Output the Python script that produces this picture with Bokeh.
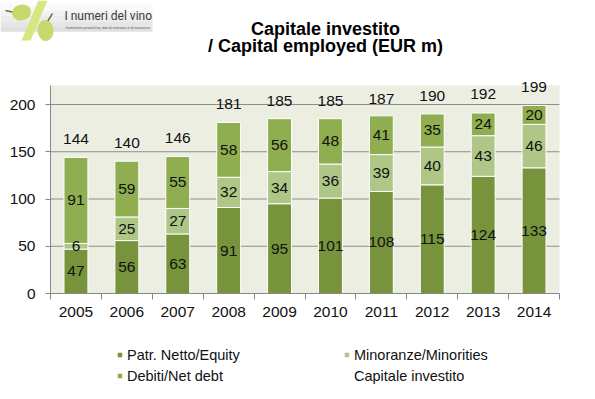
from bokeh.plotting import figure
from bokeh.models import (ColumnDataSource, LabelSet, Label, Legend, LegendItem,
                          FixedTicker, Range1d, BoxAnnotation, LinearAxis)
from bokeh.core.properties import value
from bokeh.embed import file_html
from bokeh.resources import INLINE

# ---------------- data ----------------
years = [2005, 2006, 2007, 2008, 2009, 2010, 2011, 2012, 2013, 2014]
equity = [47, 56, 63, 91, 95, 101, 108, 115, 124, 133]
minorities = [6, 25, 27, 32, 34, 36, 39, 40, 43, 46]
net_debt = [91, 59, 55, 58, 56, 48, 41, 35, 24, 20]
capital_employed = [144, 140, 146, 181, 185, 185, 187, 190, 192, 199]
y_ticks = [0, 50, 100, 150, 200]
y_max = 220

series_names = ["Patr. Netto/Equity", "Minoranze/Minorities", "Debiti/Net debt"]
total_name = "Capitale investito"
title_1 = "Capitale investito"
title_2 = "/ Capital employed (EUR m)"
logo_text = "I numeri del vino"
logo_sub = "Statistiche produttive, dati di mercato e di consumo."

# ---------------- style ----------------
C_EQ = "#77933C"
C_MIN = "#AEC786"
C_DEBT = "#8EAE4F"
C_BG = "#ECEEE1"
C_AX = "#888888"
FONT = "Liberation Sans"
W, H = 595, 399
# plot-area placement in pixels (left, right, bottom of plot area)
PL, PR, PB = 50, 559, 293
X_LO, X_HI = years[0] - 0.5, years[-1] + 0.5
XS = (PR - PL) / (X_HI - X_LO)   # px per year
YS = 0.945                      # px per unit


def dx(px):
    return X_LO + (px - PL) / XS


def dy(py):
    return (PB - py) / YS


src = ColumnDataSource(dict(year=years, eq=equity, mi=minorities, de=net_debt))

p = figure(width=W, height=H, output_backend="svg", toolbar_location=None,
           x_range=Range1d(dx(0), dx(W)), y_range=Range1d(dy(H), dy(0)),
           min_border=0, min_border_left=0, min_border_right=0,
           min_border_top=0, min_border_bottom=0,
           x_axis_type=None, y_axis_type=None)
p.background_fill_color = "white"
p.border_fill_color = "white"
p.outline_line_color = None
p.xgrid.visible = False
p.ygrid.visible = False

# plot area background
p.add_layout(BoxAnnotation(left=X_LO, right=X_HI, bottom=0, top=y_max, fill_color=C_BG,
                           fill_alpha=1, line_color=None, level="underlay"))
# horizontal grid lines
p.segment(x0=[X_LO] * len(y_ticks[1:]), x1=[X_HI] * len(y_ticks[1:]), y0=y_ticks[1:],
          y1=y_ticks[1:], line_color="#8C8C8C", line_width=1)

rs = p.vbar_stack(["eq", "mi", "de"], x="year", width=0.47, source=src,
                  color=[C_EQ, C_MIN, C_DEBT], line_color="white", line_width=1)
inv = p.scatter(x=years, y=capital_employed, alpha=0, size=1)

# segment labels
mids_x, mids_y, mids_t = [], [], []
for y, a, b, c in zip(years, equity, minorities, net_debt):
    base = 0
    for v in (a, b, c):
        mids_x.append(y)
        mids_y.append(base + v / 2)
        mids_t.append(str(v))
        base += v
seg = ColumnDataSource(dict(x=mids_x, y=mids_y, t=mids_t))
p.add_layout(LabelSet(x="x", y="y", text="t", source=seg, text_align="center",
                      text_baseline="middle", text_font=value(FONT), text_font_size="15.5px",
                      text_color="#111111"))
tot = ColumnDataSource(dict(x=years, y=capital_employed, t=[str(v) for v in capital_employed]))
p.add_layout(LabelSet(x="x", y="y", text="t", source=tot, text_align="center",
                      text_baseline="middle", y_offset=18, text_font=value(FONT),
                      text_font_size="15.5px", text_color="#111111"))

# ---------------- axes (fixed at the plot area edges) ----------------
xa = LinearAxis(fixed_location=0, bounds=(X_LO, X_HI),
                ticker=FixedTicker(ticks=years,
                                   minor_ticks=[y - 0.5 for y in years] + [X_HI]))
xa.major_tick_line_color = None
xa.major_tick_out = 6
xa.major_tick_in = 0
xa.minor_tick_out = 6
xa.minor_tick_in = 0
xa.minor_tick_line_color = C_AX
xa.major_label_standoff = 7
xa.axis_line_color = C_AX
xa.major_label_text_font = FONT
xa.major_label_text_font_size = "15.5px"
xa.major_label_text_color = "#111111"
p.add_layout(xa, "below")

ya = LinearAxis(fixed_location=X_LO, bounds=(0, y_max), ticker=FixedTicker(ticks=y_ticks))
ya.major_tick_out = 5
ya.major_tick_in = 0
ya.minor_tick_line_color = None
ya.major_tick_line_color = C_AX
ya.axis_line_color = C_AX
ya.major_label_standoff = 10
ya.major_label_text_font = FONT
ya.major_label_text_font_size = "15.5px"
ya.major_label_text_color = "#111111"
p.add_layout(ya, "left")

# ---------------- title ----------------
p.add_layout(Label(x=dx(325), y=dy(28), text=title_1, text_align="center", text_baseline="middle",
                   text_font=FONT, text_font_style="bold", text_font_size="18px", text_color="#000000"))
p.add_layout(Label(x=dx(325), y=dy(45), text=title_2, text_align="center", text_baseline="middle",
                   text_font=FONT, text_font_style="bold", text_font_size="18px", text_color="#000000"))

# ---------------- logo ----------------
band_cols = ["#FDFDFD", "#F8F8F8", "#F2F2F2", "#ECECEC", "#E6E6E6", "#E0E0E0"]
for i, col in enumerate(band_cols):
    p.quad(left=dx(0), right=dx(152), top=dy(i * 5.2), bottom=dy((i + 1) * 5.2),
           fill_color=col, line_color=None)
p.segment(x0=[dx(5)], y0=[dy(10)], x1=[dx(14)], y1=[dy(12)], line_color="#7A6A3A", line_width=1.5)
p.segment(x0=[dx(47)], y0=[dy(21)], x1=[dx(52)], y1=[dy(13)], line_color="#7A6A3A", line_width=1.5)
p.patch(x=[dx(38), dx(47), dx(30), dx(21)], y=[dy(0), dy(0), dy(40), dy(40)],
        fill_color="#D5E77F", line_color=None)
p.ellipse(x=[dx(21)], y=[dy(12)], width=19, height=16, width_units="screen",
          height_units="screen", angle=0.2, fill_color="#C6DA6C", line_color=None)
p.ellipse(x=[dx(45)], y=[dy(30)], width=16, height=21, width_units="screen",
          height_units="screen", angle=0.1, fill_color="#C6DA6C", line_color=None)
p.add_layout(Label(x=dx(64), y=dy(15), text=logo_text, text_align="left", text_baseline="middle",
                   text_font="Roboto", text_font_size="12px", text_color="#3A3A3A"))
p.add_layout(Label(x=dx(65), y=dy(27), text=logo_sub, text_align="left", text_baseline="middle",
                   text_font="Roboto", text_font_size="3.7px", text_color="#666666"))

# ---------------- legend ----------------
legend = Legend(items=[LegendItem(label=series_names[0], renderers=[rs[0]]),
                       LegendItem(label=series_names[1], renderers=[rs[1]]),
                       LegendItem(label=series_names[2], renderers=[rs[2]]),
                       LegendItem(label=total_name, renderers=[inv])],
                location=(116, 13), orientation="horizontal", ncols=2,
                glyph_width=7, glyph_height=7, label_standoff=4, label_width=216,
                label_height=21, spacing=0, padding=0, margin=0,
                border_line_color=None, background_fill_alpha=0,
                label_text_font=FONT, label_text_font_size="14.5px", label_text_color="#111111")
p.add_layout(legend)

open("out.html", "w").write(file_html(p, INLINE))
